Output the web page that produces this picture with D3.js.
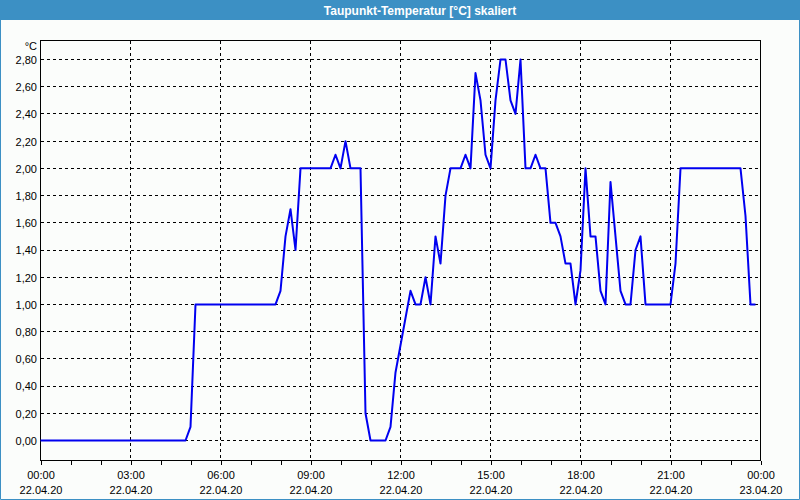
<!DOCTYPE html>
<html><head><meta charset="utf-8">
<script src="https://cdn.jsdelivr.net/npm/d3@7"></script>
<style>body{margin:0;background:#fff} svg{display:block}</style>
</head><body><svg id="c" width="800" height="500"></svg>
<script>
const title = "Taupunkt-Temperatur [°C] skaliert";
const unitLabel = "°C";
const times = ["00:00","04:50","05:00","05:10","07:50","08:00","08:10","08:20","08:30","08:40",
  "09:40","09:50","10:00","10:10","10:20","10:40","10:50","11:00","11:30","11:40",
  "11:50","12:00","12:10","12:20","12:30","12:40","12:50","13:00","13:10","13:20",
  "13:30","13:40","14:00","14:10","14:20","14:30","14:40","14:50","15:00","15:10",
  "15:20","15:30","15:40","15:50","16:00","16:10","16:20","16:30","16:40","16:50",
  "17:00","17:10","17:20","17:30","17:40","17:50","18:00","18:10","18:20","18:30",
  "18:40","18:50","19:00","19:10","19:20","19:30","19:40","19:50","20:00","20:10",
  "21:00","21:10","21:20","23:20","23:30","23:40","23:50"];
const values = [0,0,0.1,1.0,1.0,1.1,1.5,1.7,1.4,2.0,
  2.0,2.1,2.0,2.2,2.0,2.0,0.2,0,0,0.1,
  0.5,0.7,0.9,1.1,1.0,1.0,1.2,1.0,1.5,1.3,
  1.8,2.0,2.0,2.1,2.0,2.7,2.5,2.1,2.0,2.5,
  2.8,2.8,2.5,2.4,2.8,2.0,2.0,2.1,2.0,2.0,
  1.6,1.6,1.5,1.3,1.3,1.0,1.25,2.0,1.5,1.5,
  1.1,1.0,1.9,1.5,1.1,1.0,1.0,1.4,1.5,1.0,
  1.0,1.3,2.0,2.0,1.65,1.0,1.0];
const yTicks = [0,0.2,0.4,0.6,0.8,1.0,1.2,1.4,1.6,1.8,2.0,2.2,2.4,2.6,2.8];
const gridHours = [3,6,9,12,15,18,21];

const svg = d3.select("#c");
const W = 800, H = 500;
const font = "'Liberation Sans', Arial, sans-serif";
const blue = "#3c90c4";

// background
svg.append("rect").attr("x",0).attr("y",0).attr("width",W).attr("height",H).attr("fill","#fbfdfb");
svg.append("rect").attr("x",0).attr("y",0).attr("width",W).attr("height",20).attr("fill",blue);
svg.append("text").attr("x",420).attr("y",14.5).attr("text-anchor","middle")
  .attr("font-family",font).attr("font-size",12).attr("font-weight","bold").attr("fill","#fff").text(title);
// outer border
svg.append("path").attr("d","M0.5,20V499.5H799.5V20").attr("fill","none").attr("stroke",blue).attr("stroke-width",1);

const day0 = new Date(2020,3,22,0,0);
const day1 = new Date(2020,3,23,0,0);
const parse = s => { const [h,m] = s.split(":").map(Number); return new Date(2020,3,22,h,m); };
const data = times.map((t,i)=>({t:parse(t), v:values[i]}));

const x = d3.scaleTime().domain([day0, day1]).range([40.5, 760.5]);
const y = d3.scaleLinear().domain([0, 2.8]).range([440.5, 59.5]);

const loc = d3.formatLocale({decimal:",", thousands:".", grouping:[3], currency:["","€"]});
const fmt = loc.format(".2f");

// grid
const g = svg.append("g");
g.selectAll("line.h").data(yTicks).join("line").attr("class","h")
  .attr("x1",40.5).attr("x2",760.5).attr("y1",d=>y(d)).attr("y2",d=>y(d))
  .attr("stroke","#000").attr("stroke-dasharray","3,3").attr("shape-rendering","crispEdges");
g.selectAll("line.v").data(gridHours).join("line").attr("class","v")
  .attr("x1",d=>x(new Date(2020,3,22,d))).attr("x2",d=>x(new Date(2020,3,22,d)))
  .attr("y1",40.5).attr("y2",460.5)
  .attr("stroke","#000").attr("stroke-dasharray","3,3").attr("shape-rendering","crispEdges");

// y axis
const ya = svg.append("g").attr("transform","translate(40.5,0)")
  .call(d3.axisLeft(y).tickValues(yTicks).tickFormat(fmt).tickSize(0).tickPadding(3.5));
ya.select(".domain").remove();
ya.selectAll("text").attr("font-family",font).attr("font-size",11).attr("fill","#000").attr("dy","0.35em");
svg.append("text").attr("x",37).attr("y",50).attr("text-anchor","end")
  .attr("font-family",font).attr("font-size",11).attr("fill","#000").text(unitLabel);

// x axis
const hourTicks = d3.timeHour.range(day0, new Date(2020,3,23,0,1));
const xa = svg.append("g").attr("transform","translate(0,460.5)")
  .call(d3.axisBottom(x).tickValues(hourTicks).tickSize(4)
    .tickFormat(d => d.getHours()%3===0 ? d3.timeFormat("%H:%M")(d) : ""));
xa.select(".domain").remove();
xa.selectAll("line").attr("stroke","#000").attr("shape-rendering","crispEdges");
xa.selectAll("text").attr("font-family",font).attr("font-size",11).attr("fill","#000")
  .attr("y",18).attr("dy",0)
  .each(function(d){
    if (d.getHours()%3!==0) return;
    d3.select(this).append("tspan").attr("x",0).attr("y",33).text(d3.timeFormat("%d.%m.%y")(d));
  });

// frame
svg.append("rect").attr("x",40.5).attr("y",40.5).attr("width",720).attr("height",420)
  .attr("fill","none").attr("stroke","#000").attr("shape-rendering","crispEdges");

// data line
svg.append("path").datum(data)
  .attr("d", d3.line().x(d=>x(d.t)).y(d=>y(d.v)))
  .attr("fill","none").attr("stroke","#0000f0").attr("stroke-width",2)
  .attr("stroke-linejoin","round");
</script></body></html>
